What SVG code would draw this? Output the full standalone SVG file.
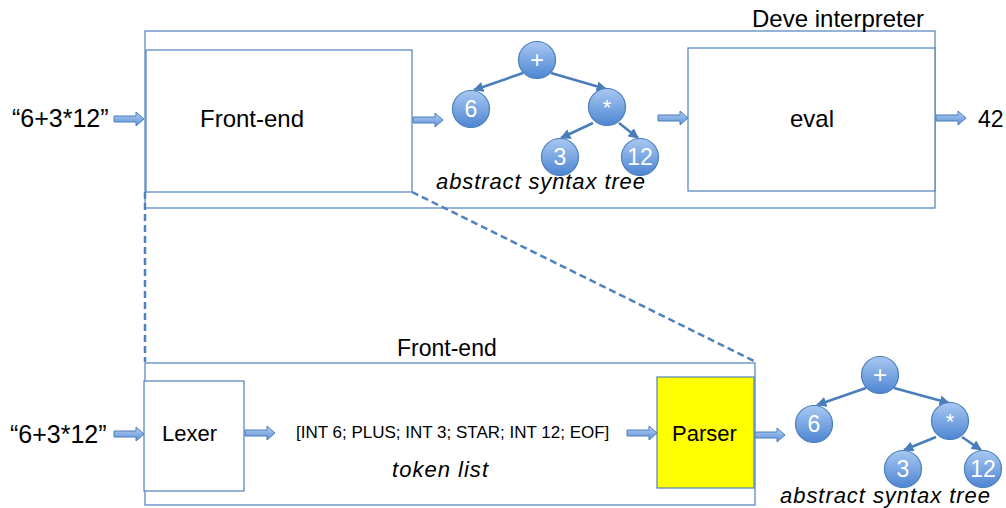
<svg xmlns="http://www.w3.org/2000/svg" xmlns:xlink="http://www.w3.org/1999/xlink" width="1006" height="508" viewBox="0 0 1006 508">
  <style>
    .box { fill: #ffffff; stroke: #4f81bd; stroke-width: 1.2; }
    .lbl { font-family: "Liberation Sans", Arial, sans-serif; fill: #000000; }
    .it { font-style: italic; }
    .node circle { fill: url(#ballFill); stroke: #4a7ebb; stroke-width: 1.2; }
    .node text { font-family: "Liberation Sans", Arial, sans-serif; fill: #ffffff; text-anchor: middle; }
    .edge { stroke: #4a7ebb; stroke-width: 2.6; fill: none; marker-end: url(#head); }
    .zoom { stroke: #4f81bd; stroke-width: 2.5; stroke-dasharray: 7 4; fill: none; }
    .flow { fill: url(#flowFill); stroke: #4a7ebb; stroke-width: 1; }
  </style>
  <defs>
    <linearGradient id="ballFill" x1="0" y1="0" x2="0" y2="1">
      <stop offset="0" stop-color="#a9c8f2"/>
      <stop offset="1" stop-color="#4d85d2"/>
    </linearGradient>
    <linearGradient id="flowFill" x1="0" y1="0" x2="0" y2="1">
      <stop offset="0" stop-color="#b6cff2"/>
      <stop offset="1" stop-color="#5b90d8"/>
    </linearGradient>
    <marker id="head" viewBox="0 0 10 10" refX="9" refY="5" markerWidth="4" markerHeight="4" orient="auto" markerUnits="strokeWidth">
      <path d="M0,0 L10,5 L0,10 Z" fill="#4a7ebb"/>
    </marker>
    <!-- block arrow, tail centre at origin, 30 px long -->
    <path id="blockArrow" d="M0,-3 H22 V-7 L30,0 L22,7 V3 H0 Z"/>
  </defs>

  <!-- Interpreter container -->
  <g id="interpreter">
    <rect class="box" x="145" y="31" width="790" height="177"/>
    <text class="lbl" x="752" y="27" font-size="24">Deve interpreter</text>
  </g>

  <g id="frontend-top">
    <rect class="box" x="146" y="50" width="266" height="142"/>
    <text class="lbl" x="200" y="127" font-size="24">Front-end</text>
  </g>

  <g id="eval">
    <rect class="box" x="688" y="48" width="247" height="143"/>
    <text class="lbl" x="790" y="127" font-size="24">eval</text>
  </g>

  <g id="input-top">
    <text class="lbl" x="12" y="127" font-size="25">“6+3*12”</text>
  </g>

  <g id="result">
    <text class="lbl" x="978" y="127" font-size="23">42</text>
  </g>

  <!-- Front-end detail -->
  <g id="frontend-detail">
    <rect class="box" x="145" y="363" width="610" height="142"/>
    <text class="lbl" x="397" y="356" font-size="23">Front-end</text>
  </g>

  <g id="lexer">
    <rect class="box" x="144" y="381" width="100" height="110"/>
    <text class="lbl" x="162" y="441" font-size="22">Lexer</text>
  </g>

  <g id="parser">
    <rect x="657" y="377" width="97" height="111" fill="#ffff00" stroke="#4f81bd" stroke-width="1.2"/>
    <text class="lbl" x="672" y="441" font-size="22">Parser</text>
  </g>

  <g id="input-bottom">
    <text class="lbl" x="10" y="443" font-size="25">“6+3*12”</text>
  </g>

  <g id="tokens">
    <text class="lbl" x="296" y="438" font-size="17">[INT 6; PLUS; INT 3; STAR; INT 12; EOF]</text>
    <text class="lbl it" x="392" y="477" font-size="22" textLength="96">token list</text>
  </g>

  <!-- Abstract syntax tree (upper) -->
  <g id="ast-top">
    <g id="ast-top-edges">
      <line class="edge" x1="523" y1="73" x2="474" y2="90"/>
      <line class="edge" x1="551" y1="73" x2="606" y2="89"/>
      <line class="edge" x1="593" y1="123" x2="561" y2="138"/>
      <line class="edge" x1="619" y1="123" x2="638" y2="138"/>
    </g>
    <g id="ast-top-plus" class="node"><circle cx="537" cy="60" r="18.5"/><text x="537" y="68" font-size="24">+</text></g>
    <g id="ast-top-6" class="node"><circle cx="471" cy="109" r="18.5"/><text x="471" y="117" font-size="23">6</text></g>
    <g id="ast-top-star" class="node"><circle cx="607" cy="107" r="18.5"/><text x="607" y="115" font-size="22">*</text></g>
    <g id="ast-top-3" class="node"><circle cx="560" cy="157" r="18.5"/><text x="560" y="165" font-size="23">3</text></g>
    <g id="ast-top-12" class="node"><circle cx="640" cy="157" r="18.5"/><text x="640" y="165" font-size="23">12</text></g>
    <text class="lbl it" x="436" y="189" font-size="22" textLength="209">abstract syntax tree</text>
  </g>

  <!-- Abstract syntax tree (lower) -->
  <g id="ast-bottom">
    <g id="ast-bottom-edges">
      <line class="edge" x1="866" y1="388" x2="817" y2="405"/>
      <line class="edge" x1="894" y1="388" x2="949" y2="403"/>
      <line class="edge" x1="936" y1="437" x2="904" y2="450"/>
      <line class="edge" x1="962" y1="437" x2="981" y2="450"/>
    </g>
    <g id="ast-bottom-plus" class="node"><circle cx="880" cy="375" r="18.5"/><text x="880" y="383" font-size="24">+</text></g>
    <g id="ast-bottom-6" class="node"><circle cx="814" cy="424" r="18.5"/><text x="814" y="432" font-size="23">6</text></g>
    <g id="ast-bottom-star" class="node"><circle cx="950" cy="421" r="18.5"/><text x="950" y="429" font-size="22">*</text></g>
    <g id="ast-bottom-3" class="node"><circle cx="903" cy="469" r="18.5"/><text x="903" y="477" font-size="23">3</text></g>
    <g id="ast-bottom-12" class="node"><circle cx="983" cy="469" r="18.5"/><text x="983" y="477" font-size="23">12</text></g>
    <text class="lbl it" x="780" y="503" font-size="22" textLength="210">abstract syntax tree</text>
  </g>

  <!-- Connectors -->
  <g id="connectors">
    <use xlink:href="#blockArrow" class="flow" transform="translate(114,119)"/>
    <use xlink:href="#blockArrow" class="flow" transform="translate(413,120)"/>
    <use xlink:href="#blockArrow" class="flow" transform="translate(658,118)"/>
    <use xlink:href="#blockArrow" class="flow" transform="translate(936,118)"/>
    <use xlink:href="#blockArrow" class="flow" transform="translate(114,434)"/>
    <use xlink:href="#blockArrow" class="flow" transform="translate(245,433)"/>
    <use xlink:href="#blockArrow" class="flow" transform="translate(627,433)"/>
    <use xlink:href="#blockArrow" class="flow" transform="translate(755,435)"/>
    <!-- zoom-in guides from the front-end box to its detail -->
    <line class="zoom" x1="145" y1="192" x2="145" y2="362"/>
    <line class="zoom" x1="412" y1="192" x2="756" y2="362"/>
  </g>
</svg>
